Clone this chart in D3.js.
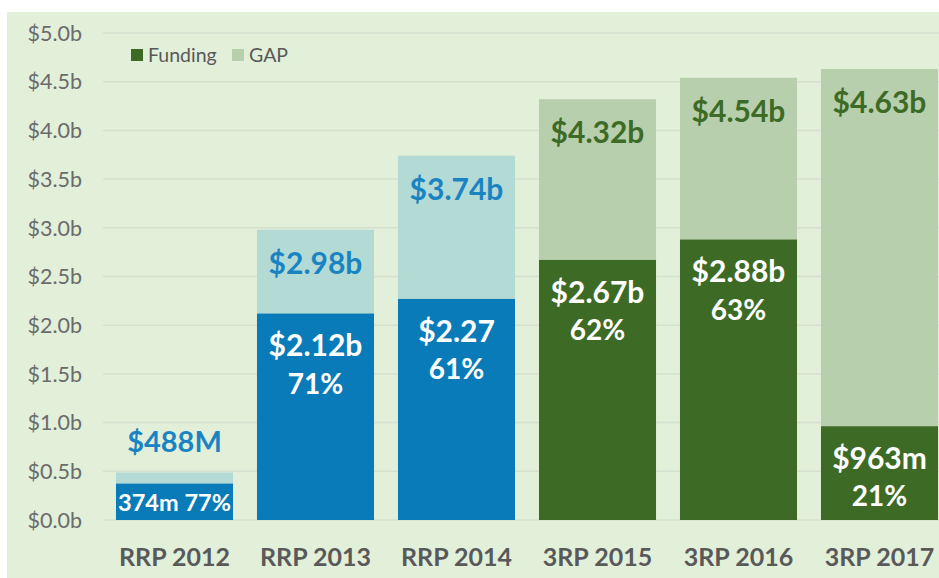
<!DOCTYPE html>
<html>
<head>
<meta charset="utf-8">
<script src="https://cdn.jsdelivr.net/npm/d3@7"></script>
<style>
  body { margin: 0; background: #fff; }
  svg { display: block; font-family: Lato, "Open Sans", sans-serif; }
  .tick-label { fill: #6b6b6b; font-size: 21.5px; }
  .cat-label { fill: #595959; font-size: 25px; font-weight: bold; }
  .grid { stroke: #d6e0cf; stroke-width: 1.5; }
  .val { font-weight: bold; text-anchor: middle; }
</style>
</head>
<body>
<svg width="939" height="578"></svg>
<script>
// chart values
var categories = ["RRP 2012", "RRP 2013", "RRP 2014", "3RP 2015", "3RP 2016", "3RP 2017"];
var funding = [0.374, 2.12, 2.27, 2.67, 2.88, 0.963];
var totals = [0.488, 2.98, 3.74, 4.32, 4.54, 4.63];
var totalLabels = ["$488M", "$2.98b", "$3.74b", "$4.32b", "$4.54b", "$4.63b"];
var fundingLabels = ["374m", "$2.12b", "$2.27", "$2.67b", "$2.88b", "$963m"];
var pctLabels = ["77%", "71%", "61%", "62%", "63%", "21%"];
var yTicks = [0, 0.5, 1, 1.5, 2, 2.5, 3, 3.5, 4, 4.5, 5];
var legendItems = ["Funding", "GAP"];

var colors = {
    RRP: { funding: "#0a7bb9", gap: "#b4dad6", label: "#1a84c2" },
    "3RP": { funding: "#3d6b26", gap: "#b7cfad", label: "#3d6b26" }
};

function group(cat) {
    return cat.split(" ")[0];
}

var svg = d3.select("svg");

// background panel
svg.append("rect")
    .attr("x", 7)
    .attr("y", 12)
    .attr("width", 932)
    .attr("height", 566)
    .attr("fill", "#e2efd9");

var x = d3.scaleBand()
    .domain(categories)
    .range([104, 950])
    .paddingInner(0.17)
    .paddingOuter(0.085);

var y = d3.scaleLinear()
    .domain([0, 5])
    .range([520, 33]);

// grid + tick labels
var g = svg.append("g");
yTicks.forEach(function(t) {
    g.append("line")
        .attr("class", "grid")
        .attr("x1", 103)
        .attr("x2", 939)
        .attr("y1", y(t))
        .attr("y2", y(t));
    g.append("text")
        .attr("class", "tick-label")
        .attr("x", 82)
        .attr("y", y(t))
        .attr("dy", "0.36em")
        .attr("text-anchor", "end")
        .text("$" + t.toFixed(1) + "b");
});

// bars
var bars = svg.append("g");
for (var i = 0; i < categories.length; i++) {
    var c = colors[group(categories[i])];
    var bx = x(categories[i]);
    var bw = x.bandwidth();

    bars.append("rect")
        .attr("x", bx)
        .attr("width", bw)
        .attr("y", y(totals[i]))
        .attr("height", y(funding[i]) - y(totals[i]))
        .attr("fill", c.gap);

    bars.append("rect")
        .attr("x", bx)
        .attr("width", bw)
        .attr("y", y(funding[i]))
        .attr("height", y(0) - y(funding[i]))
        .attr("fill", c.funding);

    var cx = bx + bw / 2;

    if (i == 0) {
        // small bar: total label above, one-line label inside
        bars.append("text")
            .attr("class", "val")
            .attr("x", cx)
            .attr("y", y(totals[i]) - 31)
            .attr("dy", "0.36em")
            .attr("font-size", 29)
            .attr("fill", c.label)
            .text(totalLabels[i]);
        bars.append("text")
            .attr("class", "val")
            .attr("x", cx)
            .attr("y", (y(funding[i]) + y(0)) / 2 + 1)
            .attr("dy", "0.36em")
            .attr("font-size", 23.5)
            .attr("fill", "#fff")
            .text(fundingLabels[i] + " " + pctLabels[i]);
        continue;
    }

    bars.append("text")
        .attr("class", "val")
        .attr("x", cx)
        .attr("y", y(totals[i]) + 33)
        .attr("dy", "0.36em")
        .attr("font-size", 30)
        .attr("fill", c.label)
        .text(totalLabels[i]);

    bars.append("text")
        .attr("class", "val")
        .attr("x", cx)
        .attr("y", y(funding[i]) + 32)
        .attr("dy", "0.36em")
        .attr("font-size", 30)
        .attr("fill", "#fff")
        .text(fundingLabels[i]);

    bars.append("text")
        .attr("class", "val")
        .attr("x", cx)
        .attr("y", y(funding[i]) + 70)
        .attr("dy", "0.36em")
        .attr("font-size", 28)
        .attr("fill", "#fff")
        .text(pctLabels[i]);
}

// category labels
categories.forEach(function(cat) {
    svg.append("text")
        .attr("class", "cat-label")
        .attr("x", x(cat) + x.bandwidth() / 2)
        .attr("y", 557)
        .attr("dy", "0.36em")
        .attr("text-anchor", "middle")
        .text(cat);
});

// legend
var legendColors = [colors["3RP"].funding, colors["3RP"].gap];
var lx = [131, 232];
legendItems.forEach(function(name, k) {
    svg.append("rect")
        .attr("x", lx[k])
        .attr("y", 49)
        .attr("width", 12)
        .attr("height", 12)
        .attr("fill", legendColors[k]);
    svg.append("text")
        .attr("x", lx[k] + 17)
        .attr("y", 55)
        .attr("dy", "0.36em")
        .attr("font-size", 19.5)
        .attr("fill", "#595959")
        .text(name);
});
</script>
</body>
</html>
